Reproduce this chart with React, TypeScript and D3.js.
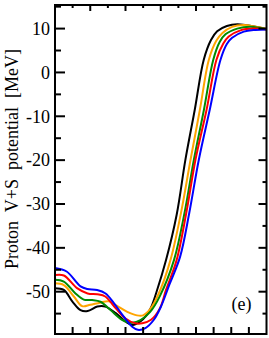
import React from "react";
import * as d3 from "d3";

// radius [fm] vs proton V+S potential [MeV], one array per curve
const black: [number, number][] = [
  [0, -49.2], [0.5, -49.6], [1.0, -52.3], [1.45, -54.2], [1.85, -54.4], [2.4, -53.4],
  [2.85, -53.4], [3.45, -54.9], [4.0, -56.8], [4.4, -57.6], [4.85, -56.8], [5.15, -55.6],
  [5.45, -53.6], [5.75, -50.2], [6.3, -42.8], [6.9, -32.5], [7.4, -19.9], [7.93, -8.5],
  [8.44, 2.9], [8.85, 7.4], [9.2, 9.4], [9.75, 10.6], [10.35, 11.0], [11.3, 10.5], [12, 9.9],
];
const orange: [number, number][] = [
  [0, -48.1], [0.5, -48.5], [1.07, -51.1], [1.54, -53.3], [2.0, -53.0], [2.55, -52.5],
  [3.05, -52.2], [3.5, -53.2], [4.1, -54.6], [4.65, -55.4], [5.0, -55.4], [5.4, -54.0],
  [5.9, -50.3], [6.55, -42.8], [7.15, -32], [7.69, -19.9], [8.22, -8.5], [8.73, 2.9],
  [9.15, 7.2], [9.5, 9.0], [10.05, 10.4], [10.7, 10.8], [11.4, 10.4], [12, 9.9],
];
const green: [number, number][] = [
  [0, -47.3], [0.5, -47.7], [1.16, -50.4], [1.63, -51.8], [2.1, -51.9], [2.58, -52.3],
  [3.15, -54.2], [3.8, -56.4], [4.4, -57.1], [4.85, -56.5], [5.4, -54.6], [5.95, -51.0],
  [6.75, -42.8], [7.35, -32], [7.88, -19.9], [8.45, -8.5], [8.98, 2.9], [9.35, 7.0],
  [9.67, 8.7], [10.34, 10.0], [11.1, 10.4], [12, 9.8],
];
const red: [number, number][] = [
  [0, -46.2], [0.5, -46.3], [1.25, -49.2], [1.85, -50.4], [2.4, -50.6], [2.85, -51.1],
  [3.45, -53.8], [4.0, -56.1], [4.55, -57.2], [4.95, -57.2], [5.45, -56.4], [5.95, -53.8],
  [6.3, -49.6], [6.9, -42.8], [7.45, -32], [7.97, -19.9], [8.6, -8.5], [9.16, 2.9],
  [9.55, 6.6], [9.86, 8.2], [10.52, 9.6], [11.28, 10.0], [12, 9.8],
];
const blue: [number, number][] = [
  [0, -44.6], [0.66, -45.4], [1.45, -48.8], [1.83, -49.4], [2.39, -49.6], [2.87, -50.4],
  [3.34, -52.6], [3.9, -55.7], [4.38, -58.0], [4.7, -58.7], [5.13, -58.3], [5.61, -56.4],
  [5.99, -53.6], [6.5, -48.3], [7.1, -42.0], [7.62, -32], [8.16, -19.9], [8.78, -8.5],
  [9.39, 2.9], [9.75, 6.5], [10.05, 7.9], [10.71, 9.3], [11.38, 9.7], [12, 9.8],
];

const series = [
  { data: black, color: "#000000" },
  { data: orange, color: "#ffa500" },
  { data: green, color: "#008b00" },
  { data: red, color: "#ff0000" },
  { data: blue, color: "#0000ff" },
];

const yMajor = [-50, -40, -30, -20, -10, 0, 10];
const yMinor = [-55, -45, -35, -25, -15, -5, 5, 15];
const xMajor = [2, 4, 6, 8, 10];
const xMinor = [1, 3, 5, 7, 9, 11];

const W = 269, H = 338;
const left = 55, right = 266.5, top = 5, bottom = 334;
const font = '"Liberation Serif", "DejaVu Serif", serif';

export default function App() {
  const x = d3.scaleLinear().domain([0, 12]).range([left, right]);
  const y = d3.scaleLinear().domain([-59.65, 15.38]).range([bottom, top]);

  const line = d3.line<[number, number]>()
    .x(d => x(d[0]))
    .y(d => y(d[1]))
    .curve(d3.curveCatmullRom.alpha(0.5));

  return (
    <svg width={W} height={H} style={{ position: "absolute", left: 0, top: 0 }}>
      <rect width={W} height={H} fill="#fff" />
      {series.map((s, i) => (
        <path key={i} d={line(s.data) || ""} fill="none" stroke={s.color} strokeWidth={2} />
      ))}

      <g stroke="#000" strokeWidth={2}>
        {yMajor.map(v => (
          <g key={"ym" + v}>
            <line x1={left} x2={left + 10} y1={y(v)} y2={y(v)} />
            <line x1={right} x2={right - 8} y1={y(v)} y2={y(v)} />
          </g>
        ))}
        {yMinor.filter(v => y(v) > top + 1).map(v => (
          <g key={"yn" + v}>
            <line x1={left} x2={left + 6} y1={y(v)} y2={y(v)} />
            <line x1={right} x2={right - 4} y1={y(v)} y2={y(v)} />
          </g>
        ))}
        {xMajor.map(v => (
          <g key={"xm" + v}>
            <line x1={x(v)} x2={x(v)} y1={top} y2={top + 6} />
            <line x1={x(v)} x2={x(v)} y1={bottom} y2={bottom - 7} />
          </g>
        ))}
        {xMinor.map(v => (
          <g key={"xn" + v}>
            <line x1={x(v)} x2={x(v)} y1={top} y2={top + 3} />
            <line x1={x(v)} x2={x(v)} y1={bottom} y2={bottom - 7} />
          </g>
        ))}
        <rect x={left} y={top} width={right - left} height={bottom - top} fill="none" />
      </g>

      <g style={{ fontFamily: font, fontSize: "18px" }} fill="#000">
        {yMajor.map(v => (
          <text key={"l" + v} x={left - 5} y={y(v)} dy="0.35em" textAnchor="end">{v}</text>
        ))}
        <text
          transform="translate(18.3,159) rotate(-90)"
          textAnchor="middle"
          style={{ whiteSpace: "pre" }}
        >
          {"Proton  V+S  potential  [MeV]"}
        </text>
        <text x={231.5} y={310}>(e)</text>
      </g>
    </svg>
  );
}
